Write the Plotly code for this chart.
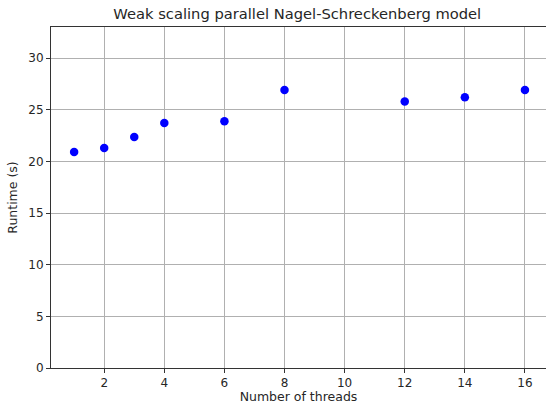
import plotly.graph_objects as go

threads = [1, 2, 3, 4, 6, 8, 12, 14, 16]
runtime = [20.9, 21.3, 22.35, 23.7, 23.88, 26.9, 25.8, 26.2, 26.9]
x_ticks = [2, 4, 6, 8, 10, 12, 14, 16]
y_ticks = [0, 5, 10, 15, 20, 25, 30]

W, H = 546, 404
L, T, B, R = 50.7, 27.3, 36, 0

fig = go.Figure()
fig.add_trace(go.Scatter(
    x=threads, y=runtime, mode="markers",
    marker=dict(color="#0000ff", size=8.5, line=dict(width=0)),
    showlegend=False,
))

font = "DejaVu Sans"
fig.update_layout(
    width=W, height=H,
    margin=dict(l=L, r=R, t=T, b=B, pad=0),
    paper_bgcolor="white", plot_bgcolor="white",
    font=dict(family=font, size=12, color="#262626"),
    title=dict(text="Weak scaling parallel Nagel-Schreckenberg model",
               x=(L + (W - R)) / 2 / W - 0.002, xanchor="center",
               y=1 - 14 / H, yanchor="middle",
               font=dict(family=font, size=14.7, color="#262626")),
    xaxis=dict(range=[0.23, 16.70], tickvals=x_ticks, ticktext=[str(v) for v in x_ticks],
               showgrid=True, gridcolor="#b0b0b0", gridwidth=0.8,
               showline=True, linecolor="#333333", linewidth=1, mirror=True,
               ticks="outside", ticklen=4, tickwidth=0.8, tickcolor="#333333",
               tickfont=dict(family=font, size=12, color="#262626"),
               zeroline=False,
               title=dict(text="Number of threads", standoff=5,
                          font=dict(family=font, size=12.5, color="#262626"))),
    yaxis=dict(range=[0, 33], tickvals=y_ticks, ticktext=[str(v) for v in y_ticks],
               showgrid=True, gridcolor="#b0b0b0", gridwidth=0.8,
               showline=True, linecolor="#333333", linewidth=1,
               ticks="outside", ticklen=4, tickwidth=0.8, tickcolor="#333333",
               tickfont=dict(family=font, size=12, color="#262626"),
               zeroline=False,
               title=dict(text="Runtime (s)", standoff=7,
                          font=dict(family=font, size=12.5, color="#262626"))),
)

fig.write_html("out.html")
